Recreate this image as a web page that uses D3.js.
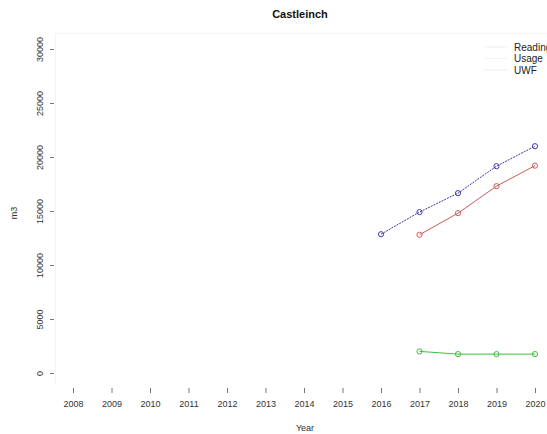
<!DOCTYPE html>
<html><head><meta charset="utf-8">
<script src="https://cdn.jsdelivr.net/npm/d3@7"></script>
<style>body{margin:0;background:#fff}svg{display:block}text{font-family:"Liberation Sans",Arial,sans-serif}</style>
</head><body>
<svg id="c" width="547" height="434"></svg>
<script>
const years = [2008,2009,2010,2011,2012,2013,2014,2015,2016,2017,2018,2019,2020];
const yTicks = [0,5000,10000,15000,20000,25000,30000];
const readingYears = [2016,2017,2018,2019,2020];
const readingValues = [12850,14900,16650,19150,21000];
const usageYears = [2017,2018,2019,2020];
const usageValues = [12800,14800,17300,19200];
const uwfYears = [2017,2018,2019,2020];
const uwfValues = [2000,1750,1750,1750];
const legendLabels = ["Reading","Usage","UWF"];

const svg = d3.select("#c");
const x = d3.scaleLinear().domain([2008,2020]).range([73,535]);
const y = d3.scaleLinear().domain([0,30000]).range([373,49]);

// faint plot frame
svg.append("line").attr("x1",55.5).attr("x2",55.5).attr("y1",33).attr("y2",385).attr("stroke","#f3f3f3");
svg.append("line").attr("x1",55).attr("x2",547).attr("y1",33.5).attr("y2",33.5).attr("stroke","#f6f6f6");

// y axis
const ya = svg.append("g").attr("transform","translate(54,0)")
  .call(d3.axisLeft(y).tickValues(yTicks).tickSize(4).tickFormat(d3.format("d")));
ya.select(".domain").remove();
ya.selectAll("line").attr("stroke","#777");
ya.selectAll("text").attr("fill","#333").style("font-size","9px")
  .attr("text-anchor","middle").attr("x",0).attr("y",0).attr("dy","0.35em")
  .attr("transform","translate(-14,0) rotate(-90)");

// x axis
const xa = svg.append("g").attr("transform","translate(0,388)")
  .call(d3.axisBottom(x).tickValues(years).tickSize(5).tickFormat(d3.format("d")));
xa.select(".domain").remove();
xa.selectAll("line").attr("stroke","#777");
xa.selectAll("text").attr("fill","#333").style("font-size","9px").attr("y",13);

// titles
svg.append("text").attr("x",300).attr("y",18).attr("text-anchor","middle")
  .style("font-size","11px").style("font-weight","bold").attr("fill","#111").text("Castleinch");
svg.append("text").attr("x",305).attr("y",431).attr("text-anchor","middle")
  .style("font-size","9px").attr("fill","#333").text("Year");
svg.append("text").attr("transform","translate(17,213) rotate(-90)").attr("text-anchor","middle")
  .style("font-size","9px").attr("fill","#333").text("m3");

const line = d3.line().x(d=>x(d[0])).y(d=>y(d[1]));
function series(yrs, vals, color, dash){
  const pts = yrs.map((yr,i)=>[yr,vals[i]]);
  svg.append("path").datum(pts).attr("d",line).attr("fill","none")
    .attr("stroke",color).attr("stroke-width",1).attr("stroke-dasharray",dash);
  svg.selectAll(null).data(pts).enter().append("circle")
    .attr("cx",d=>x(d[0])).attr("cy",d=>y(d[1])).attr("r",2.6)
    .attr("fill","none").attr("stroke",color).attr("stroke-width",1);
}
series(readingYears, readingValues, "#3a3aa8", "2,1");
series(usageYears, usageValues, "#d05a5a", null);
series(uwfYears, uwfValues, "#3cc03c", null);

// legend
const legendColors = ["#f6eeee","#eef6ee","#eeeef6"];
legendLabels.forEach((lab,i)=>{
  const ly = 47 + i*11.5;
  svg.append("line").attr("x1",485).attr("x2",507).attr("y1",ly).attr("y2",ly)
    .attr("stroke",legendColors[i]).attr("stroke-width",1);
  svg.append("text").attr("x",514).attr("y",ly).attr("dy","0.35em")
    .style("font-size","10px").attr("fill","#222").text(lab);
});
</script>
</body></html>
